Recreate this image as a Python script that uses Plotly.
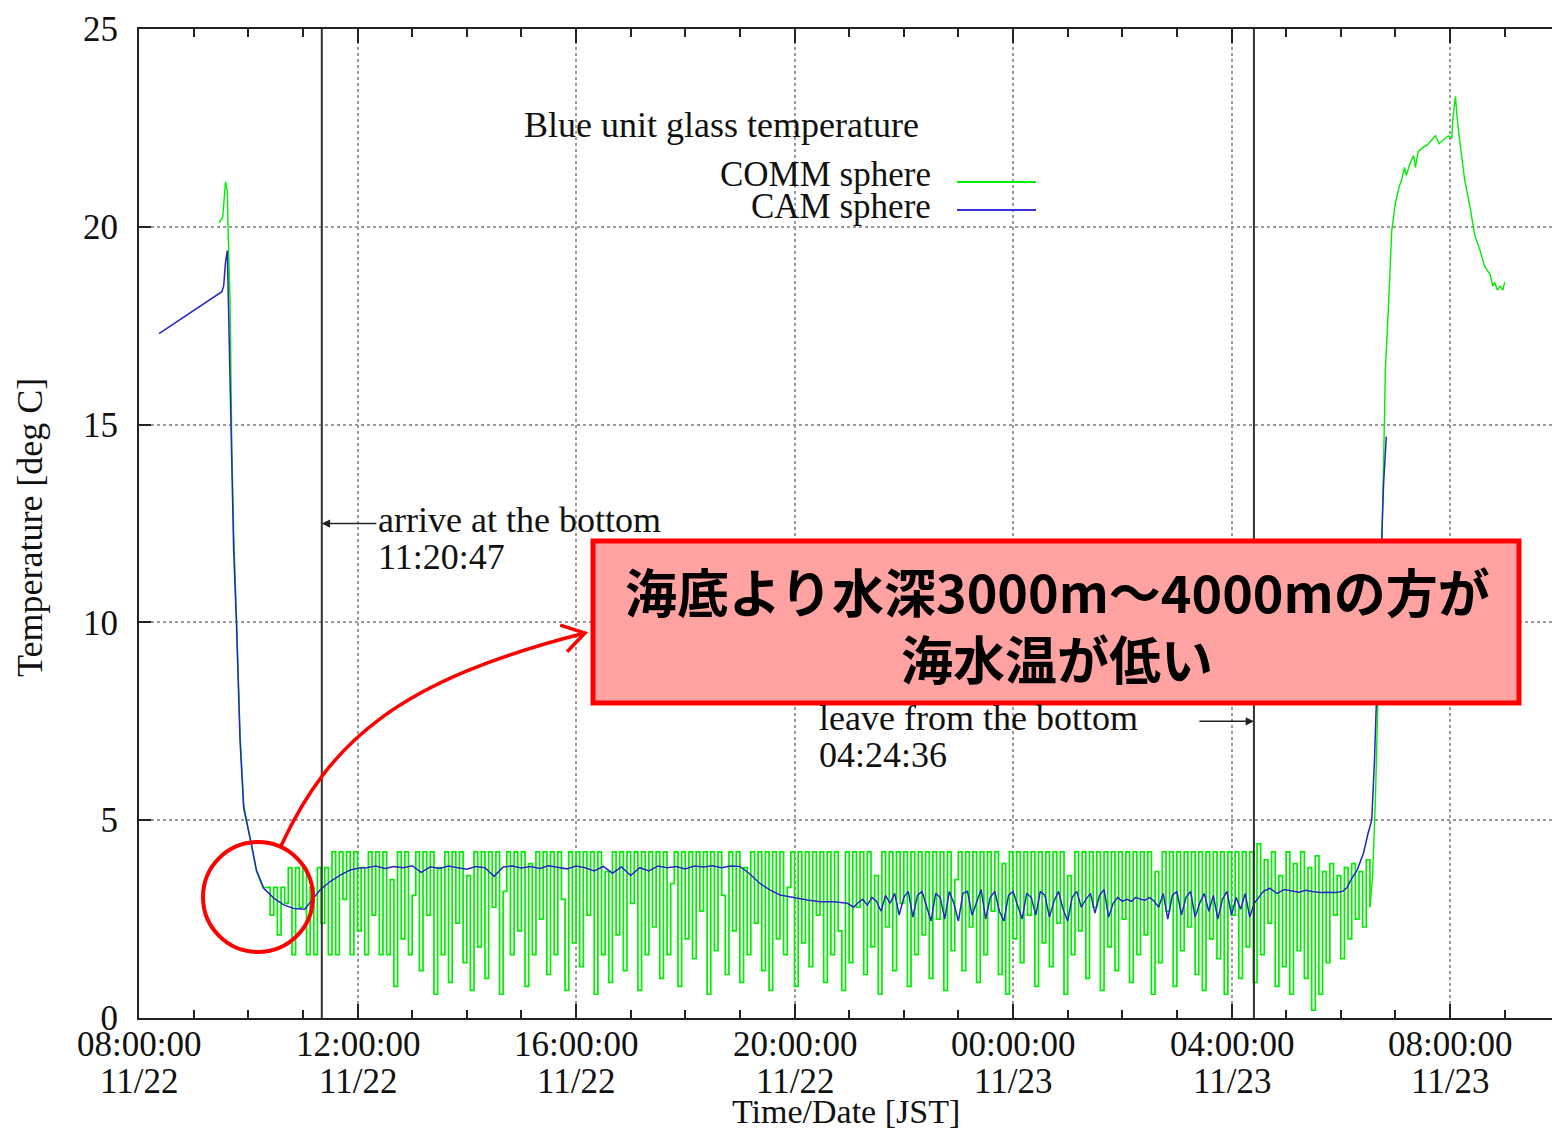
import math
import pandas as pd
import plotly.graph_objects as go

# ---------------------------------------------------------------- data ----
# CAM sphere (blue): lowering, bottom plateau, bottom stay, recovery
cam_descent_t = ["2010-11-22 08:22", "2010-11-22 09:31", "2010-11-22 09:33", "2010-11-22 09:35",
                 "2010-11-22 09:37", "2010-11-22 09:38", "2010-11-22 09:40", "2010-11-22 09:42",
                 "2010-11-22 09:44", "2010-11-22 09:47", "2010-11-22 09:51", "2010-11-22 09:55",
                 "2010-11-22 09:58", "2010-11-22 10:04", "2010-11-22 10:09", "2010-11-22 10:17",
                 "2010-11-22 10:28", "2010-11-22 10:39", "2010-11-22 10:50", "2010-11-22 11:02",
                 "2010-11-22 11:10", "2010-11-22 11:19", "2010-11-22 11:30", "2010-11-22 11:41",
                 "2010-11-22 11:52", "2010-11-22 12:02"]
cam_descent_v = [17.3, 18.36, 18.5, 19.1, 19.4, 18.2, 16.5, 14.1, 11.8, 10.0, 7.0, 5.3,
                 5.0, 4.33, 3.74, 3.28, 3.03, 2.86, 2.77, 2.75, 2.98, 3.24, 3.45, 3.61,
                 3.74, 3.79]

cam_plateau_start = "2010-11-22 12:10"
cam_plateau_step_min = 10
cam_plateau_v = [3.80, 3.84, 3.78, 3.83, 3.80, 3.85, 3.68, 3.82, 3.78, 3.84, 3.80, 3.76,
                 3.83, 3.80, 3.58, 3.82, 3.84, 3.79, 3.83, 3.78, 3.85, 3.81, 3.77, 3.84,
                 3.80, 3.72, 3.83, 3.66, 3.82, 3.60, 3.80, 3.72, 3.84, 3.80, 3.83, 3.77,
                 3.84, 3.82, 3.85, 3.80, 3.84, 3.83]

cam_cooling_t = ["2010-11-22 19:10", "2010-11-22 19:22", "2010-11-22 19:33", "2010-11-22 19:44",
                 "2010-11-22 19:58", "2010-11-22 20:14", "2010-11-22 20:28", "2010-11-22 20:43",
                 "2010-11-22 20:58", "2010-11-22 21:05"]
cam_cooling_v = [3.66, 3.40, 3.24, 3.11, 3.05, 2.98, 2.94, 2.94, 2.90, 2.80]

cam_bottom_start = "2010-11-22 21:10"
cam_bottom_step_min = 5
cam_bottom_v = [2.92, 3.00, 2.85, 3.05, 2.95, 2.70, 3.10, 2.90, 3.15, 2.60, 3.05, 3.20,
                2.55, 3.10, 3.20, 2.80, 2.45, 3.15, 3.05, 2.50, 3.20, 2.90, 2.45, 3.15,
                3.20, 2.60, 2.95, 3.25, 2.50, 3.05, 3.20, 2.70, 2.45, 3.10, 3.20, 2.85,
                2.50, 3.15, 3.05, 2.60, 3.20, 3.10, 2.55, 2.95, 3.20, 2.75, 2.45, 3.05,
                3.20, 2.80, 3.00, 3.15, 2.65, 3.10, 3.25, 2.55, 2.90, 3.05, 2.95, 3.00,
                2.95, 3.05, 3.00, 2.98, 3.05, 2.95, 2.80, 3.15, 2.50, 3.10, 3.20, 2.60,
                3.05, 3.20, 2.55, 2.90, 3.15, 2.70, 3.10, 2.50, 3.00, 3.20, 2.60, 3.05,
                2.75, 3.15, 2.55, 2.90]

cam_ascent_t = ["2010-11-23 04:30", "2010-11-23 04:35", "2010-11-23 04:42", "2010-11-23 04:50",
                "2010-11-23 04:58", "2010-11-23 05:06", "2010-11-23 05:14", "2010-11-23 05:22",
                "2010-11-23 05:30", "2010-11-23 05:38", "2010-11-23 05:46", "2010-11-23 05:54",
                "2010-11-23 06:02", "2010-11-23 06:07", "2010-11-23 06:11", "2010-11-23 06:18",
                "2010-11-23 06:25", "2010-11-23 06:30", "2010-11-23 06:34", "2010-11-23 06:37",
                "2010-11-23 06:40", "2010-11-23 06:43", "2010-11-23 06:47", "2010-11-23 06:50"]
cam_ascent_v = [3.05, 3.20, 3.28, 3.15, 3.25, 3.22, 3.18, 3.23, 3.19, 3.17, 3.18, 3.17,
                3.20, 3.30, 3.49, 3.74, 4.17, 4.67, 5.0, 6.5, 8.5, 11.0, 13.5, 14.7]

# COMM sphere (green)
comm_descent_t = ["2010-11-22 09:28", "2010-11-22 09:32", "2010-11-22 09:35", "2010-11-22 09:37",
                  "2010-11-22 09:38", "2010-11-22 09:40", "2010-11-22 09:42", "2010-11-22 09:44",
                  "2010-11-22 09:47", "2010-11-22 09:51", "2010-11-22 09:55", "2010-11-22 09:58",
                  "2010-11-22 10:04", "2010-11-22 10:09", "2010-11-22 10:16"]
comm_descent_v = [20.1, 20.25, 21.14, 20.9, 19.8, 18.15, 14.36, 12.26, 10.2, 7.2, 5.4, 5.0,
                  4.3, 3.7, 3.3]

comm_bottom_start = "2010-11-22 10:20"
comm_bottom_step_min = 4
comm_bottom_v = [
    3.3, 2.6, 3.3, 2.1, 3.3, 2.9, 3.8, 1.6, 3.8, 2.8, 3.8, 1.6, 3.3, 1.6, 3.8,
    2.4, 3.8, 1.6, 4.2, 1.6, 4.2, 3.0, 4.2, 1.6, 4.2, 2.2, 3.8, 1.6, 4.2, 2.6,
    4.2, 1.6, 4.2, 1.6, 3.5, 0.8, 4.2, 2.0, 4.2, 1.6, 3.1, 4.2, 1.2, 4.2, 2.6,
    4.2, 0.6, 3.8, 1.6, 4.2, 0.9, 4.2, 2.4, 4.2, 1.4, 3.6, 0.7, 4.2, 1.8, 4.2,
    1.0, 4.2, 2.8, 4.2, 0.6, 3.2, 4.2, 1.6, 4.2, 2.2, 4.2, 0.8, 3.9, 1.6, 4.2,
    2.5, 4.2, 1.1, 4.2, 1.6, 4.2, 3.0, 0.7, 4.2, 1.9, 4.2, 1.3, 4.2, 2.6, 4.2,
    0.6, 4.2, 1.6, 3.7, 0.9, 4.2, 2.1, 4.2, 1.2, 4.2, 2.9, 4.2, 0.7, 4.2, 1.6,
    4.2, 2.3, 4.2, 1.0, 4.2, 1.6, 3.4, 4.2, 0.8, 4.2, 2.0, 4.2, 1.5, 4.2, 2.7,
    4.2, 0.6, 4.2, 1.7, 4.2, 3.1, 1.1, 4.2, 2.2, 4.2, 0.9, 3.8, 1.6, 4.2, 2.4,
    4.2, 1.2, 4.2, 0.7, 4.2, 2.0, 4.2, 1.6, 3.3, 4.2, 0.8, 4.2, 1.9, 4.2, 1.3,
    4.2, 2.6, 4.2, 0.9, 4.2, 1.6, 4.2, 2.2, 0.7, 4.2, 1.4, 4.2, 2.8, 4.2, 1.1,
    4.2, 1.8, 3.6, 0.6, 4.2, 2.3, 4.2, 1.2, 4.2, 2.9, 4.2, 0.8, 4.2, 1.6, 4.2,
    2.1, 4.2, 1.0, 4.2, 2.5, 4.2, 0.7, 4.2, 1.7, 3.5, 4.2, 1.2, 4.2, 2.3, 4.2,
    0.9, 4.2, 1.6, 4.2, 2.7, 4.2, 1.1, 3.9, 0.6, 4.2, 2.0, 4.2, 1.4, 4.2, 2.6,
    4.2, 0.8, 4.2, 1.9, 4.2, 1.3, 4.2, 2.4, 4.2, 0.6, 3.6, 1.6, 4.2, 2.2, 4.2,
    1.0, 4.2, 2.8, 4.2, 0.7, 4.2, 1.8, 4.2, 1.2, 4.2, 2.5, 4.2, 0.9, 4.2, 1.6,
    4.2, 2.1, 4.2, 0.6, 3.7, 1.4, 4.2, 2.7, 4.2, 0.8, 4.2, 1.7, 4.2, 2.3, 4.2,
    1.1, 4.2, 0.7, 4.2, 2.0, 4.2, 1.5, 4.2, 0.6, 4.2, 2.6, 4.2, 1.0, 4.2, 1.8,
    4.2, 0.9, 4.4, 1.6, 4.0, 2.4, 4.2, 0.8, 3.6, 1.3, 4.2, 0.6, 3.9, 1.7, 4.2,
    1.0, 3.8, 0.2, 4.1, 0.6, 3.7, 1.4, 3.9, 2.6, 3.6, 1.5, 3.8, 2.0, 3.9, 2.5,
    3.7, 2.3, 4.0, 2.8]

comm_ascent_t = ["2010-11-23 06:35", "2010-11-23 06:38", "2010-11-23 06:41", "2010-11-23 06:44",
                 "2010-11-23 06:47", "2010-11-23 06:49", "2010-11-23 06:52", "2010-11-23 06:56",
                 "2010-11-23 07:00", "2010-11-23 07:04", "2010-11-23 07:07", "2010-11-23 07:10",
                 "2010-11-23 07:12", "2010-11-23 07:16", "2010-11-23 07:20", "2010-11-23 07:22",
                 "2010-11-23 07:25", "2010-11-23 07:30", "2010-11-23 07:35", "2010-11-23 07:40",
                 "2010-11-23 07:44", "2010-11-23 07:48", "2010-11-23 07:53", "2010-11-23 07:58",
                 "2010-11-23 08:02", "2010-11-23 08:03", "2010-11-23 08:06", "2010-11-23 08:08",
                 "2010-11-23 08:11", "2010-11-23 08:16", "2010-11-23 08:22", "2010-11-23 08:27",
                 "2010-11-23 08:33", "2010-11-23 08:38", "2010-11-23 08:44", "2010-11-23 08:47",
                 "2010-11-23 08:49", "2010-11-23 08:52", "2010-11-23 08:55", "2010-11-23 08:58",
                 "2010-11-23 09:00"]
comm_ascent_v = [3.6, 5.5, 8.0, 11.0, 14.0, 16.4, 17.8, 19.9, 20.6, 21.0, 21.2, 21.5,
                 21.3, 21.6, 21.8, 21.5, 21.9, 22.0, 22.07, 22.2, 22.3, 22.1, 22.2, 22.3,
                 22.25, 22.7, 23.3, 22.7, 22.1, 21.2, 20.5, 19.8, 19.4, 19.0, 18.8, 18.5,
                 18.6, 18.4, 18.5, 18.4, 18.6]

# events
arrive_time = "2010-11-22 11:20:47"
leave_time = "2010-11-23 04:24:36"
arrive_arrow_temp = 12.5
leave_arrow_temp = 7.5

# axis ticks
tick_times = ["2010-11-22 08:00", "2010-11-22 12:00", "2010-11-22 16:00", "2010-11-22 20:00",
              "2010-11-23 00:00", "2010-11-23 04:00", "2010-11-23 08:00"]
tick_clock = ["08:00:00", "12:00:00", "16:00:00", "20:00:00", "00:00:00", "04:00:00", "08:00:00"]
tick_dates = ["11/22", "11/22", "11/22", "11/22", "11/23", "11/23", "11/23"]
x_start, x_end = "2010-11-22 08:00", "2010-11-23 09:52"

# ------------------------------------------------------------- helpers ----
W, H = 1552, 1132
L, T, B = 139, 29, 1018
R = W
SERIF = "Liberation Serif, Times New Roman, serif"
CJK = "Noto Sans CJK JP"
GREEN = "#00ee00"
BLUE = "#2626c4"
INK = "#222222"


def px(x):
    return (x - L) / (R - L)


def py(y):
    return (B - y) / (B - T)


def regular(start, step_min, values):
    return list(pd.date_range(start, periods=len(values), freq=f"{step_min}min"))


cam_t = (list(pd.to_datetime(cam_descent_t))
         + regular(cam_plateau_start, cam_plateau_step_min, cam_plateau_v)
         + list(pd.to_datetime(cam_cooling_t))
         + regular(cam_bottom_start, cam_bottom_step_min, cam_bottom_v)
         + list(pd.to_datetime(cam_ascent_t)))
cam_v = cam_descent_v + cam_plateau_v + cam_cooling_v + cam_bottom_v + cam_ascent_v

comm_bot_t = regular(comm_bottom_start, comm_bottom_step_min, comm_bottom_v)
comm_desc_t = list(pd.to_datetime(comm_descent_t))
comm_asc_t = list(pd.to_datetime(comm_ascent_t))

fig = go.Figure()

# COMM sphere: smooth legs plus the stepped bottom record
fig.add_trace(go.Scatter(x=comm_desc_t + comm_bot_t[:1], y=comm_descent_v + comm_bottom_v[:1],
                         mode="lines", line=dict(color=GREEN, width=1.4),
                         name="COMM sphere", showlegend=False))
fig.add_trace(go.Scatter(x=comm_bot_t, y=comm_bottom_v, mode="lines",
                         line=dict(color=GREEN, width=1.7, shape="hv"),
                         name="COMM sphere", showlegend=False))
fig.add_trace(go.Scatter(x=comm_bot_t[-1:] + comm_asc_t, y=comm_bottom_v[-1:] + comm_ascent_v,
                         mode="lines", line=dict(color=GREEN, width=1.4),
                         name="COMM sphere", showlegend=False))
# CAM sphere
fig.add_trace(go.Scatter(x=cam_t, y=cam_v, mode="lines",
                         line=dict(color=BLUE, width=1.5),
                         name="CAM sphere", showlegend=False))

shapes = []
# arrival / departure markers
for t in (arrive_time, leave_time):
    shapes.append(dict(type="line", xref="x", yref="paper", x0=t, x1=t, y0=0, y1=1,
                       line=dict(color="#333333", width=2)))

# key lines next to the series names
shapes.append(dict(type="line", xref="paper", yref="paper", x0=px(957), x1=px(1036),
                   y0=py(182), y1=py(182), line=dict(color=GREEN, width=2)))
shapes.append(dict(type="line", xref="paper", yref="paper", x0=px(957), x1=px(1036),
                   y0=py(210), y1=py(210), line=dict(color="#3434d8", width=2)))

# highlight circle and curved pointer
RED = "#ff0000"
shapes.append(dict(type="circle", xref="paper", yref="paper", x0=px(203), x1=px(313),
                   y0=py(952), y1=py(842), line=dict(color=RED, width=4)))
p0, p1, p2, p3 = (281, 846), (330, 740), (400, 680), (585, 633)
path = "M {},{} C {},{} {},{} {},{}".format(px(p0[0]), py(p0[1]), px(p1[0]), py(p1[1]),
                                            px(p2[0]), py(p2[1]), px(p3[0]), py(p3[1]))
shapes.append(dict(type="path", xref="paper", yref="paper", path=path,
                   line=dict(color=RED, width=3.5)))
ang = math.atan2(p3[1] - p2[1], p3[0] - p2[0])
head = []
for s in (-1, 1):
    a = ang + math.pi + s * math.radians(32)
    head.append((p3[0] + 26 * math.cos(a), p3[1] + 26 * math.sin(a)))
hpath = "M {},{} L {},{} L {},{}".format(px(head[0][0]), py(head[0][1]), px(p3[0]), py(p3[1]),
                                         px(head[1][0]), py(head[1][1]))
shapes.append(dict(type="path", xref="paper", yref="paper", path=hpath,
                   line=dict(color=RED, width=3.5)))

# callout box
shapes.append(dict(type="rect", xref="paper", yref="paper", x0=px(593), x1=px(1519),
                   y0=py(703), y1=py(541), fillcolor="#ffa2a2",
                   line=dict(color=RED, width=5), layer="above"))

ann = []
for t, c, d in zip(tick_times, tick_clock, tick_dates):
    ann.append(dict(x=t, xref="x", y=py(1044), yref="paper", text=c, showarrow=False,
                    xanchor="center", yanchor="middle", font=dict(family=SERIF, size=35, color="#111")))
    ann.append(dict(x=t, xref="x", y=py(1081), yref="paper", text=d, showarrow=False,
                    xanchor="center", yanchor="middle", font=dict(family=SERIF, size=35, color="#111")))


def label(x, y, text, anchor="left", size=36, family=SERIF, angle=0):
    ann.append(dict(x=px(x), y=py(y), xref="paper", yref="paper", text=text, showarrow=False,
                    xanchor=anchor, yanchor="middle", textangle=angle,
                    font=dict(family=family, size=size, color="#111")))


label(846, 1111, "Time/Date [JST]", anchor="center", size=34)
label(30, 528, "Temperature [deg C]", anchor="center", angle=-90)
label(522, 125, "Blue unit glass temperature")
label(933, 175, "COMM sphere", anchor="right", size=35)
label(933, 206, "CAM sphere", anchor="right", size=35)
label(376, 520, "arrive at the bottom")
label(376, 557, arrive_time[-8:])
label(817, 718, "leave from the bottom")
label(817, 755, leave_time[-8:])

# event arrows
ann.append(dict(x=arrive_time, y=arrive_arrow_temp, xref="x", yref="y", text="",
                showarrow=True, ax=56, ay=0, arrowhead=2, arrowsize=1.1, arrowwidth=1.5,
                arrowcolor="#222"))
ann.append(dict(x=leave_time, y=leave_arrow_temp, xref="x", yref="y", text="",
                showarrow=True, ax=-56, ay=0, arrowhead=2, arrowsize=1.1, arrowwidth=1.5,
                arrowcolor="#222"))

# callout text
ann.append(dict(x=px(1057), y=py(590), xref="paper", yref="paper",
                text="<b>海底より水深3000m～4000mの方が</b>", showarrow=False,
                xanchor="center", yanchor="middle", font=dict(family=CJK, size=52, color="#000")))
ann.append(dict(x=px(1057), y=py(658), xref="paper", yref="paper",
                text="<b>海水温が低い</b>", showarrow=False,
                xanchor="center", yanchor="middle", font=dict(family=CJK, size=52, color="#000")))

fig.update_layout(
    width=W, height=H,
    margin=dict(l=L, r=W - R, t=T, b=H - B, autoexpand=False),
    paper_bgcolor="white", plot_bgcolor="white",
    shapes=shapes, annotations=ann,
    font=dict(family=SERIF, size=36, color="#111"),
    showlegend=False,
)
fig.update_xaxes(
    type="date", range=[x_start, x_end],
    tickmode="array", tickvals=tick_times, showticklabels=False,
    ticks="inside", ticklen=14, tickwidth=1.5, tickcolor=INK,
    showline=True, linecolor=INK, linewidth=2, mirror="ticks",
    showgrid=True, gridcolor="#9a9a9a", griddash="dot", gridwidth=1.5,
    minor=dict(tick0=x_start, dtick=3600000, ticks="inside", ticklen=8,
               tickwidth=1.5, tickcolor=INK, showgrid=False),
    zeroline=False,
)
fig.update_yaxes(
    range=[0, 25], tickmode="linear", tick0=0, dtick=5,
    ticks="inside", ticklen=12, tickwidth=1.5, tickcolor=INK,
    showline=True, linecolor=INK, linewidth=2,
    showgrid=True, gridcolor="#9a9a9a", griddash="dot", gridwidth=1.5,
    tickfont=dict(family=SERIF, size=35, color="#111"), ticklabelstandoff=12,
    zeroline=False,
)

fig.write_html("out.html")
